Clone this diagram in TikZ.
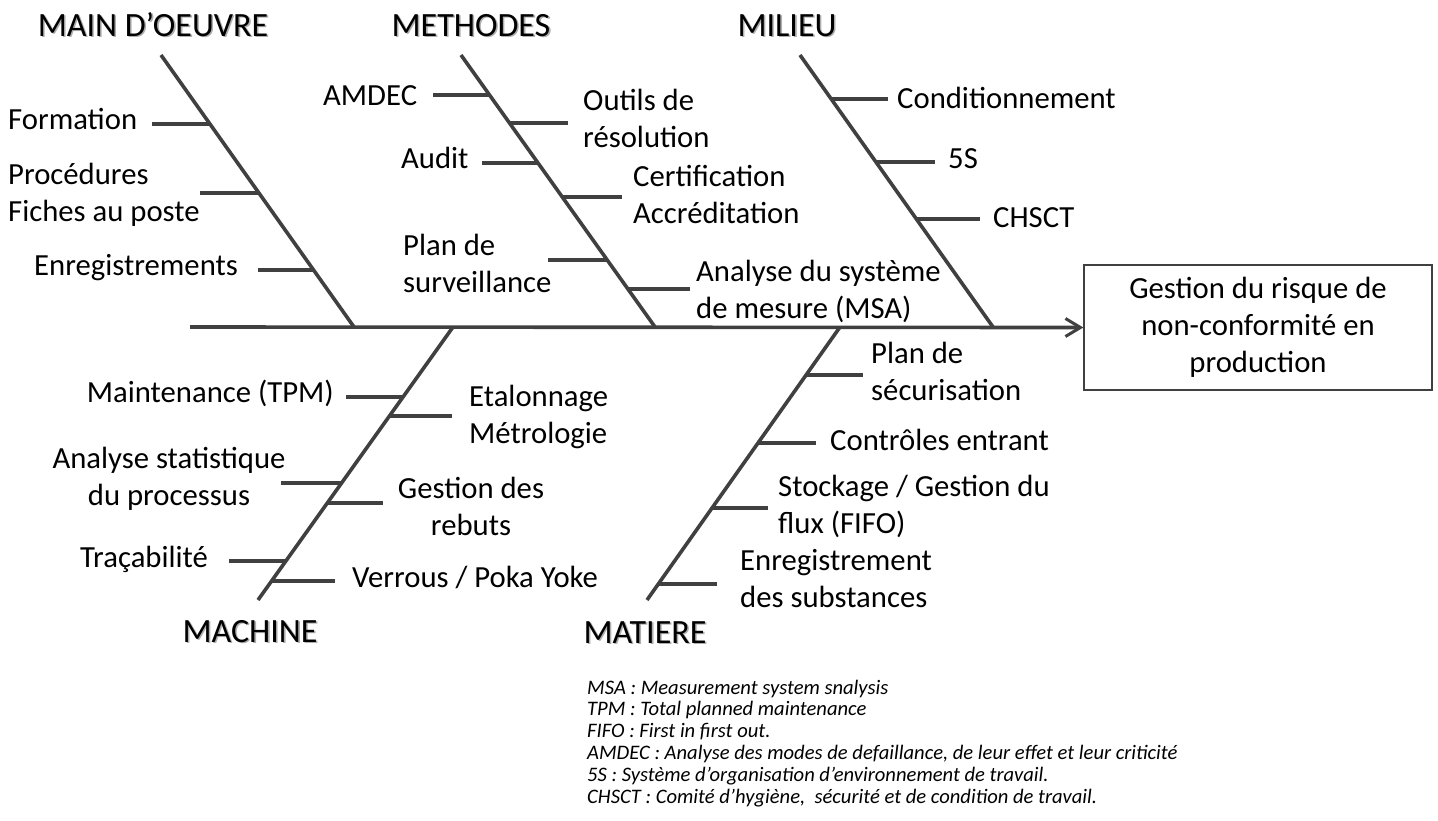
\documentclass[tikz,border=0pt]{standalone}
\usepackage{fontspec}
\setmainfont{Carlito}
\usetikzlibrary{arrows.meta}
\definecolor{bone}{HTML}{404040}
\begin{document}
\begin{tikzpicture}[x=1pt,y=-1pt,
  bonestyle/.style={draw=bone,line width=3.6pt},
  ribstyle/.style={draw=bone,line width=3.4pt},
  lbl/.style={inner sep=0pt,font=\fontsize{30.7pt}{36.5pt}\selectfont},
  head/.style={inner sep=0pt,font=\fontsize{34pt}{40pt}\selectfont},
  headshadow/.style={head,text=black!45,opacity=0.7},
  note/.style={inner sep=0pt,align=left,font=\fontsize{20.6pt}{21.8pt}\selectfont\itshape}]
\useasboundingbox (0,0) rectangle (1438,820);

% --- effect box and spine ---
\node[draw=bone,line width=1.3pt,minimum width=348pt,minimum height=125pt,
      align=center,inner sep=0pt,font=\fontsize{30.7pt}{37pt}\selectfont]
  (effect) at (1258,327.5) {Gestion du risque de\\non-conformité en\\production};
\coordinate (spineL) at (190,327);
\draw[bonestyle,-{Straight Barb[length=15pt,width=18pt,line width=3pt]}]
  (spineL) -- (effect.west);

% --- main bones ---
\coordinate (moT) at (161,55);  \coordinate (moB) at (354,327);
\coordinate (meT) at (461,55);  \coordinate (meB) at (655,327);
\coordinate (miT) at (800,55);  \coordinate (miB) at (993,327);
\coordinate (maT) at (453,327); \coordinate (maB) at (258,600);
\coordinate (mtT) at (840,327); \coordinate (mtB) at (647,600);
\foreach \a/\b in {moT/moB,meT/meB,miT/miB,maT/maB,mtT/mtB}
  \draw[bonestyle] (\a) -- (\b);

% --- category headings ---
\foreach \n/\p/\t in {hMO/{153,36}/MAIN D’OEUVRE, hME/{471,36}/METHODES,
                      hMI/{787,36}/MILIEU, hMA/{250,642}/MACHINE,
                      hMT/{645,643}/MATIERE}{
  \node[headshadow,anchor=base] (\n s) at ([shift={(1.6,1.6)}]\p) {\t};
  \node[head,anchor=base] (\n) at (\p) {\t};
}

% --- ribs: point on bone / free end ---
\foreach \n/\bx/\ex/\y in {
    r1/210.0/152/124, r2/258.9/200/193, r3/313.6/258/270,
    r4/489.5/433/95, r5/509.5/568/123, r6/538.0/482/163,
    r7/562.3/622/197, r8/607.2/548/260, r9/627.9/690/289,
    r10/831.2/888/99, r11/875.9/935/162, r12/916.4/980/219,
    r13/403.0/346/397, r14/389.4/452/416, r15/341.6/281/483,
    r16/327.3/383/503, r17/285.9/229/561, r18/271.6/335/581,
    r19/806.1/863/375, r20/758.0/816/443, r21/712.0/768/508,
    r22/658.3/717/584}{
  \coordinate (\n a) at (\bx,\y);
  \coordinate (\n b) at (\ex,\y);
  \draw[ribstyle] (\n a) -- (\n b);
}

% --- MAIN D'OEUVRE (multi-line labels are anchored on their last baseline) ---
\node[lbl,anchor=base west] (formation) at (8,129) {Formation};
\node[lbl,anchor=base west,align=left] (procedures) at (8,221) {Procédures\\Fiches au poste};
\node[lbl,anchor=base west] (enreg) at (34,275) {Enregistrements};

% --- METHODES ---
\node[lbl,anchor=base west] (amdec) at (323,105) {AMDEC};
\node[lbl,anchor=base west,align=left] (outils) at (583,147) {Outils de\\résolution};
\node[lbl,anchor=base west] (audit) at (401,168) {Audit};
\node[lbl,anchor=base west,align=left] (certif) at (633,223) {Certification\\Accréditation};
\node[lbl,anchor=base west,align=left] (plansurv) at (403,292) {Plan de\\surveillance};
\node[lbl,anchor=base west,align=left] (msa) at (696,318) {Analyse du système\\de mesure (MSA)};

% --- MILIEU ---
\node[lbl,anchor=base west] (condit) at (897,108) {Conditionnement};
\node[lbl,anchor=base west] (cinqs) at (948,168) {5S};
\node[lbl,anchor=base west] (chsct) at (993,227) {CHSCT};

% --- MACHINE ---
\node[lbl,anchor=base east] (tpm) at (334,402) {Maintenance (TPM)};
\node[lbl,anchor=base west,align=left] (etal) at (469,443) {Etalonnage\\Métrologie};
\node[lbl,anchor=base,align=center] (spc) at (169,505) {Analyse statistique\\du processus};
\node[lbl,anchor=base,align=center] (rebuts) at (471,535) {Gestion des\\rebuts};
\node[lbl,anchor=base west] (traca) at (80,567) {Traçabilité};
\node[lbl,anchor=base west] (poka) at (352,587) {Verrous / Poka Yoke};

% --- MATIERE ---
\node[lbl,anchor=base west,align=left] (secu) at (871,400) {Plan de\\sécurisation};
\node[lbl,anchor=base west] (controle) at (830,450) {Contrôles entrant};
\node[lbl,anchor=base west,align=left] (fifo) at (778,533) {Stockage / Gestion du\\flux (FIFO)};
\node[lbl,anchor=base west,align=left] (substances) at (740,607) {Enregistrement\\des substances};

% --- glossary ---
\node[note,anchor=base west] (glossary) at (587,803) {MSA : Measurement system snalysis\\
TPM : Total planned maintenance\\
FIFO : First in first out.\\
AMDEC : Analyse des modes de defaillance, de leur effet et leur criticité\\
5S : Système d’organisation d’environnement de travail.\\
CHSCT : Comité d’hygiène,\ \ sécurité et de condition de travail.};
\end{tikzpicture}
\end{document}
